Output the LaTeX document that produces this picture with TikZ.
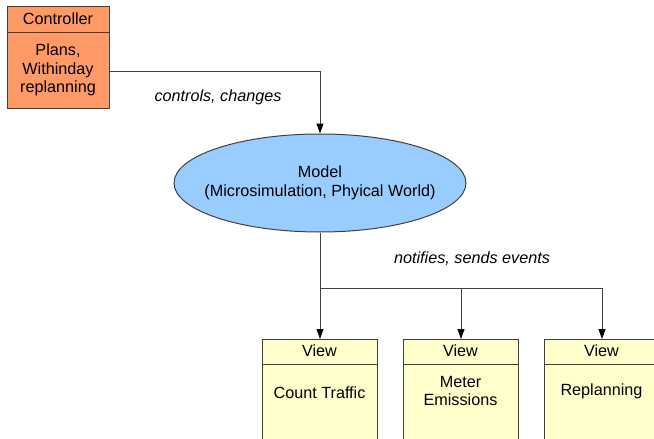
\documentclass[tikz,border=0pt]{standalone}
\usepackage{fontspec}
\setmainfont{Liberation Sans}
\usetikzlibrary{arrows.meta,shapes.geometric}
\definecolor{ctrlfill}{HTML}{FF9966}
\definecolor{modelfill}{HTML}{99CCFF}
\definecolor{viewfill}{HTML}{FFFFCC}
\definecolor{edge}{HTML}{404040}
\tikzset{
  box/.style={draw=edge, line width=1pt, anchor=north west, inner sep=0pt},
  lbl/.style={font=\fontsize{16.2}{18.5}\selectfont, align=center, inner sep=0pt},
  elbl/.style={font=\fontsize{16.2}{18.5}\selectfont\itshape, inner sep=0pt},
  conn/.style={draw=edge, line width=1pt},
  arr/.style={conn, -{Triangle[length=10pt,width=7pt,fill=black,color=black]}}
}
\begin{document}
\begin{tikzpicture}[x=1pt,y=-1pt]
\useasboundingbox (0,0) rectangle (654,439);
\clip (0,0) rectangle (654,439);
% Controller
\node[box, fill=ctrlfill, minimum width=102pt, minimum height=102pt] (ctrl) at (7,6) {};
\draw[conn] (7,32) -- (109,32);
\node[lbl] (ctrlt) at (58,19) {Controller};
\node[lbl] (ctrlb) at (58,70) {Plans,\\Withinday\\replanning};
% Model
\node[draw=edge, line width=1pt, fill=modelfill, ellipse, minimum width=292pt, minimum height=98pt, inner sep=0pt] (model) at (320,183) {};
\node[lbl] (modelt) at (320,183) {Model\\(Microsimulation, Phyical World)};
% Views
\foreach \n/\x in {v1/262, v2/403, v3/544}{
  \node[box, fill=viewfill, minimum width=115pt, minimum height=120pt] (\n) at (\x,339) {};
  \draw[conn] (\x,364) -- ++(115,0);
  \node[lbl] (\n t) at (\x+57.5,351) {View};
}
\node[lbl] (v1b) at (319.5,393) {Count Traffic};
\node[lbl] (v2b) at (460.5,391) {Meter\\Emissions};
\node[lbl] (v3b) at (601.5,391) {Replanning};
% Connectors
\coordinate (c1) at (109,71);
\draw[arr] (c1) -| (model.north);
\node[elbl] (l1) at (218,97) {controls, changes};
\coordinate (br) at (320,288);
\draw[arr] (model.south) -- (v1.north);
\draw[arr] (br) -| (v3.north);
\draw[arr] (v2.north |- br) -- (v2.north);
\node[elbl] (l2) at (472,259) {notifies, sends events};
\end{tikzpicture}
\end{document}
